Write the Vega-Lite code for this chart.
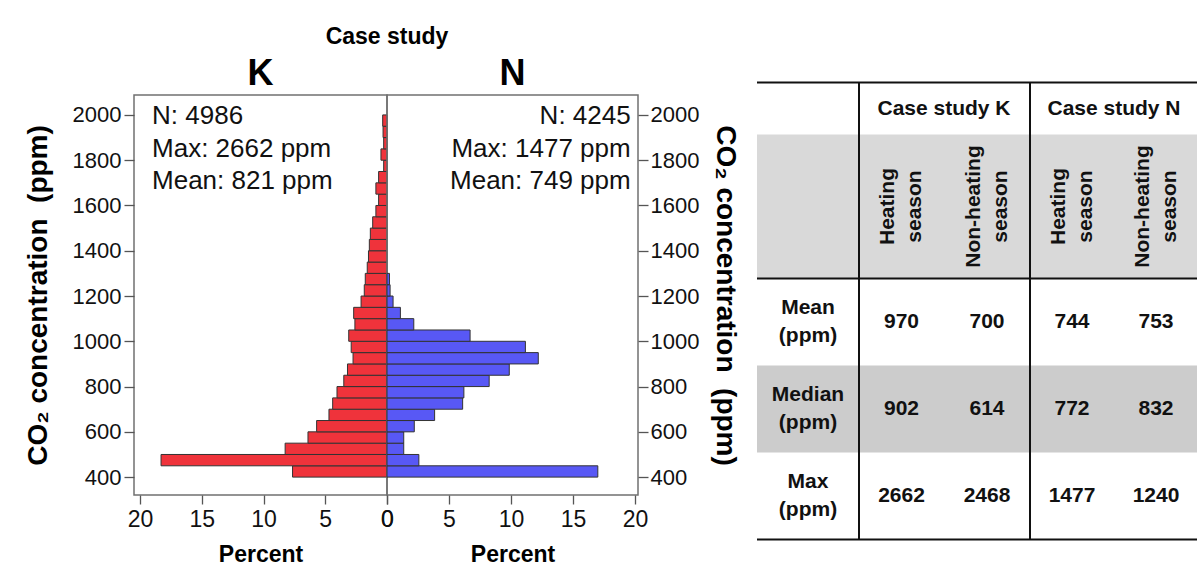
{
  "$schema": "https://vega.github.io/schema/vega-lite/v6.json",
  "background": "white",
  "autosize": {"type": "pad"},
  "padding": {"left": 23, "top": 24, "right": 0, "bottom": 0},
  "bounds": "flush",
  "spacing": 0,
  "config": {
    "font": "Liberation Sans",
    "view": {"stroke": "#707070", "strokeWidth": 1.5},
    "axis": {
      "grid": false, "domain": false, "tickColor": "#555", "tickWidth": 1.3,
      "labelColor": "#111", "labelFontSize": 22, "labelFont": "Liberation Sans",
      "titleColor": "#000", "titleFontWeight": "bold", "titleFont": "Liberation Sans",
      "labelFlush": false, "labelOverlap": false
    },
    "text": {"color": "#111"}
  },
  "datasets": {
    "K": [
      {"lo": 400, "hi": 450, "pct": 7.65}, {"lo": 450, "hi": 500, "pct": 18.3},
      {"lo": 500, "hi": 550, "pct": 8.25}, {"lo": 550, "hi": 600, "pct": 6.4},
      {"lo": 600, "hi": 650, "pct": 5.7}, {"lo": 650, "hi": 700, "pct": 4.7},
      {"lo": 700, "hi": 750, "pct": 4.4}, {"lo": 750, "hi": 800, "pct": 4.05},
      {"lo": 800, "hi": 850, "pct": 3.5}, {"lo": 850, "hi": 900, "pct": 3.2},
      {"lo": 900, "hi": 950, "pct": 2.75}, {"lo": 950, "hi": 1000, "pct": 2.9},
      {"lo": 1000, "hi": 1050, "pct": 3.1}, {"lo": 1050, "hi": 1100, "pct": 2.6},
      {"lo": 1100, "hi": 1150, "pct": 2.7}, {"lo": 1150, "hi": 1200, "pct": 2.1},
      {"lo": 1200, "hi": 1250, "pct": 1.84}, {"lo": 1250, "hi": 1300, "pct": 1.76},
      {"lo": 1300, "hi": 1350, "pct": 1.6}, {"lo": 1350, "hi": 1400, "pct": 1.5},
      {"lo": 1400, "hi": 1450, "pct": 1.43}, {"lo": 1450, "hi": 1500, "pct": 1.35},
      {"lo": 1500, "hi": 1550, "pct": 1.16}, {"lo": 1550, "hi": 1600, "pct": 0.9},
      {"lo": 1600, "hi": 1650, "pct": 0.68}, {"lo": 1650, "hi": 1700, "pct": 0.9},
      {"lo": 1700, "hi": 1750, "pct": 0.68}, {"lo": 1750, "hi": 1800, "pct": 0.27},
      {"lo": 1800, "hi": 1850, "pct": 0.49}, {"lo": 1850, "hi": 1900, "pct": 0.27},
      {"lo": 1900, "hi": 1950, "pct": 0.32}, {"lo": 1950, "hi": 2000, "pct": 0.35}
    ],
    "N": [
      {"lo": 400, "hi": 450, "pct": 17.0}, {"lo": 450, "hi": 500, "pct": 2.57},
      {"lo": 500, "hi": 550, "pct": 1.35}, {"lo": 550, "hi": 600, "pct": 1.35},
      {"lo": 600, "hi": 650, "pct": 2.2}, {"lo": 650, "hi": 700, "pct": 3.84},
      {"lo": 700, "hi": 750, "pct": 6.1}, {"lo": 750, "hi": 800, "pct": 6.2},
      {"lo": 800, "hi": 850, "pct": 8.24}, {"lo": 850, "hi": 900, "pct": 9.86},
      {"lo": 900, "hi": 950, "pct": 12.2}, {"lo": 950, "hi": 1000, "pct": 11.16},
      {"lo": 1000, "hi": 1050, "pct": 6.7}, {"lo": 1050, "hi": 1100, "pct": 2.16},
      {"lo": 1100, "hi": 1150, "pct": 1.08}, {"lo": 1150, "hi": 1200, "pct": 0.49},
      {"lo": 1200, "hi": 1250, "pct": 0.25}, {"lo": 1250, "hi": 1300, "pct": 0.2}
    ],
    "cells": [
      {"r": 0, "c": 1.5, "t": "Case study K"}, {"r": 0, "c": 3.5, "t": "Case study N"},
      {"r": 2, "c": 1, "t": "970"}, {"r": 2, "c": 2, "t": "700"}, {"r": 2, "c": 3, "t": "744"}, {"r": 2, "c": 4, "t": "753"},
      {"r": 3, "c": 1, "t": "902"}, {"r": 3, "c": 2, "t": "614"}, {"r": 3, "c": 3, "t": "772"}, {"r": 3, "c": 4, "t": "832"},
      {"r": 4, "c": 1, "t": "2662"}, {"r": 4, "c": 2, "t": "2468"}, {"r": 4, "c": 3, "t": "1477"}, {"r": 4, "c": 4, "t": "1240"}
    ],
    "rowlabels": [
      {"r": 2, "c": 0, "t": "Mean\n(ppm)"}, {"r": 3, "c": 0, "t": "Median\n(ppm)"}, {"r": 4, "c": 0, "t": "Max\n(ppm)"}
    ],
    "seasons": [
      {"r": 1, "c": 1, "t": "Heating\nseason"}, {"r": 1, "c": 2, "t": "Non-heating\nseason"},
      {"r": 1, "c": 3, "t": "Heating\nseason"}, {"r": 1, "c": 4, "t": "Non-heating\nseason"}
    ]
  },
  "hconcat": [
    {
      "width": 253,
      "height": 400,
      "layer": [
        {
          "data": {"name": "K"},
          "mark": {"type": "rect", "fill": "#EF333B", "stroke": "#333", "strokeWidth": 1},
          "encoding": {
            "x": {
              "field": "pct", "type": "quantitative",
              "scale": {"domain": [0, 20.49], "reverse": true, "nice": false},
              "axis": {"values": [0, 5, 10, 15, 20], "title": "Percent", "titleFontSize": 23, "titlePadding": 12, "labelFontSize": 23, "labelPadding": 4, "tickSize": 9}
            },
            "x2": {"datum": 0},
            "y": {
              "field": "lo", "type": "quantitative",
              "scale": {"domain": [321, 2088], "nice": false, "zero": false},
              "axis": {"values": [400, 600, 800, 1000, 1200, 1400, 1600, 1800, 2000], "format": "d", "title": "CO₂ concentration\u00a0 (ppm)", "titleFontSize": 28, "titlePadding": 20, "labelPadding": 3, "tickSize": 10}
            },
            "y2": {"field": "hi"}
          }
        },
        {
          "data": {"values": [{"t": "N: 4986\nMax: 2662 ppm\nMean: 821 ppm"}]},
          "mark": {"type": "text", "align": "left", "baseline": "alphabetic", "fontSize": 26, "lineBreak": "\n", "lineHeight": 32.5},
          "encoding": {
            "x": {"datum": 19.03, "type": "quantitative"},
            "y": {"datum": 1958, "type": "quantitative"},
            "text": {"field": "t"}
          }
        },
        {
          "data": {"values": [{"t": "K"}]},
          "mark": {"type": "text", "align": "center", "baseline": "alphabetic", "fontSize": 36, "fontWeight": "bold", "font": "Liberation Sans Narrow, Liberation Sans", "color": "#000"},
          "encoding": {
            "x": {"datum": 10.24, "type": "quantitative"},
            "y": {"datum": 2130, "type": "quantitative"},
            "text": {"field": "t"}
          }
        }
      ]
    },
    {
      "width": 251,
      "height": 400,
      "layer": [
        {
          "data": {"name": "N"},
          "mark": {"type": "rect", "fill": "#5858F5", "stroke": "#333", "strokeWidth": 1},
          "encoding": {
            "x": {
              "field": "pct", "type": "quantitative",
              "scale": {"domain": [0, 20.24], "nice": false},
              "axis": {"values": [0, 5, 10, 15, 20], "title": "Percent", "titleFontSize": 23, "titlePadding": 12, "labelFontSize": 23, "labelPadding": 4, "tickSize": 9}
            },
            "x2": {"datum": 0},
            "y": {
              "field": "lo", "type": "quantitative",
              "scale": {"domain": [321, 2088], "nice": false, "zero": false},
              "axis": {"orient": "right", "values": [400, 600, 800, 1000, 1200, 1400, 1600, 1800, 2000], "format": "d", "title": "CO₂ concentration\u00a0 (ppm)", "titleFontSize": 28, "titlePadding": 12, "labelPadding": 2, "tickSize": 10}
            },
            "y2": {"field": "hi"}
          }
        },
        {
          "data": {"values": [{"t": "N: 4245\nMax: 1477 ppm\nMean: 749 ppm"}]},
          "mark": {"type": "text", "align": "right", "baseline": "alphabetic", "fontSize": 26, "lineBreak": "\n", "lineHeight": 32.5},
          "encoding": {
            "x": {"datum": 19.65, "type": "quantitative"},
            "y": {"datum": 1958, "type": "quantitative"},
            "text": {"field": "t"}
          }
        },
        {
          "data": {"values": [{"t": "N"}]},
          "mark": {"type": "text", "align": "center", "baseline": "alphabetic", "fontSize": 36, "fontWeight": "bold", "font": "Liberation Sans Narrow, Liberation Sans", "color": "#000"},
          "encoding": {
            "x": {"datum": 10.12, "type": "quantitative"},
            "y": {"datum": 2130, "type": "quantitative"},
            "text": {"field": "t"}
          }
        },
        {
          "data": {"values": [{"t": "Case study"}]},
          "mark": {"type": "text", "align": "center", "baseline": "alphabetic", "fontSize": 23, "fontWeight": "bold", "color": "#000"},
          "encoding": {
            "x": {"datum": 0, "type": "quantitative"},
            "y": {"datum": 2315, "type": "quantitative"},
            "text": {"field": "t"}
          }
        }
      ]
    },
    {
      "width": 558,
      "height": 445,
      "view": {"stroke": null},
      "layer": [
        {
          "data": {"values": [{"from": 0.5, "to": 1.5, "kind": "header"}, {"from": 2.5, "to": 3.5, "kind": "median"}]},
          "mark": {"type": "rect"},
          "encoding": {
            "x": {"datum": -0.5, "type": "quantitative", "axis": null,
              "scale": {"domain": [-0.5, 0.5, 1.5, 2.5, 3.5, 4.5], "range": [119, 221, 306, 392, 476, 560], "nice": false, "zero": false}},
            "x2": {"datum": 4.5},
            "y": {"field": "from", "type": "quantitative", "axis": null,
              "scale": {"domain": [-0.5, 0.5, 1.5, 2.5, 3.5, 4.5], "range": [-12.5, 39.5, 183.5, 270.5, 357.5, 444.5], "nice": false, "zero": false}},
            "y2": {"field": "to"},
            "color": {"field": "kind", "type": "nominal", "legend": null,
              "scale": {"domain": ["header", "median"], "range": ["#d9d9d9", "#cccccc"]}}
          }
        },
        {
          "data": {"values": [{"e": -0.5}, {"e": 1.5}, {"e": 4.5}]},
          "mark": {"type": "rule", "color": "#111", "strokeWidth": 2},
          "encoding": {
            "y": {"field": "e", "type": "quantitative"},
            "x": {"datum": -0.5, "type": "quantitative"},
            "x2": {"datum": 4.5}
          }
        },
        {
          "data": {"values": [{"e": 0.5}, {"e": 2.5}]},
          "mark": {"type": "rule", "color": "#111", "strokeWidth": 2},
          "encoding": {
            "x": {"field": "e", "type": "quantitative"},
            "y": {"datum": -0.5, "type": "quantitative"},
            "y2": {"datum": 4.5}
          }
        },
        {
          "data": {"name": "cells"},
          "mark": {"type": "text", "align": "center", "baseline": "middle", "fontSize": 21, "fontWeight": "bold"},
          "encoding": {
            "x": {"field": "c", "type": "quantitative"},
            "y": {"field": "r", "type": "quantitative"},
            "text": {"field": "t"}
          }
        },
        {
          "data": {"name": "rowlabels"},
          "mark": {"type": "text", "align": "center", "baseline": "middle", "fontSize": 21, "fontWeight": "bold", "lineBreak": "\n", "lineHeight": 28, "dy": -14},
          "encoding": {
            "x": {"field": "c", "type": "quantitative"},
            "y": {"field": "r", "type": "quantitative"},
            "text": {"field": "t"}
          }
        },
        {
          "data": {"name": "seasons"},
          "mark": {"type": "text", "align": "center", "baseline": "middle", "angle": 270, "fontSize": 21, "fontWeight": "bold", "lineBreak": "\n", "lineHeight": 27, "dy": -13.5},
          "encoding": {
            "x": {"field": "c", "type": "quantitative"},
            "y": {"field": "r", "type": "quantitative"},
            "text": {"field": "t"}
          }
        }
      ]
    }
  ]
}
